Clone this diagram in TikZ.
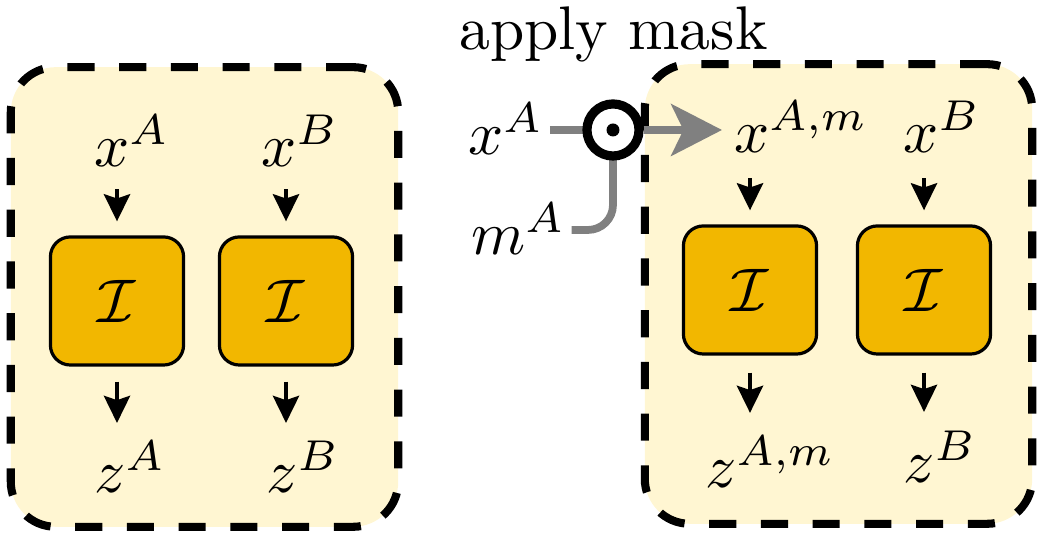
\documentclass[tikz,border=0pt]{standalone}
\usepackage{tikz}
\usetikzlibrary{positioning}
\usetikzlibrary{arrows.meta}
\definecolor{panelfill}{RGB}{255,246,210}
\definecolor{cellfill}{RGB}{242,183,0}
\definecolor{maskgray}{RGB}{128,128,128}
\tikzset{
    panel/.style = {rectangle, rounded corners=0.257cm, draw=black, line width=1.31pt, dash pattern=on 4.4pt off 4pt, fill=panelfill, minimum width=2.211cm, minimum height=2.623cm},
    cellI/.style = {rectangle, rounded corners=0.114cm, draw=black, line width=0.52pt, fill=cellfill, minimum width=0.76cm, minimum height=0.731cm},
    lbl/.style = {inner sep=0pt, anchor=base west},
    maskop/.style = {circle, draw=black, line width=1.49pt, fill=white, inner sep=0pt, minimum size=0.297cm},
    edgen/.style = {-{Stealth[length=0.155cm,width=0.15cm,inset=0.025cm]},line width=0.52pt,black},
    edgeg/.style = {maskgray,line width=1.26pt},
    edgega/.style = {-{Stealth[length=0.29cm,width=0.295cm,inset=0.07cm]},maskgray,line width=1.26pt}
}
\begin{document}
\begin{tikzpicture}[x=0.005714cm,y=-0.005714cm,font=\fontsize{10}{12}\selectfont]
  \useasboundingbox (0,0) rectangle (1044,547);

  % panels
  \node[panel] (pl) at (204.5,297) {};
  \node[panel] (pr) at (838.5,294) {};

  % left panel
  \node[cellI] (IA1) at (117,301) {$\mathcal{I}$};
  \node[cellI] (IB1) at (286,301) {$\mathcal{I}$};
  \node[lbl] (xA1) at (93,167) {$x^A$};
  \node[lbl] (xB1) at (260,167) {$x^B$};
  \node[lbl] (zA1) at (93,493) {$z^A$};
  \node[lbl] (zB1) at (265,493) {$z^B$};
  \draw[edgen,shorten <=0.12cm,shorten >=0.08cm] (xA1.south -| IA1.north) -- (IA1.north);
  \draw[edgen,shorten <=0.12cm,shorten >=0.08cm] (xB1.south -| IB1.north) -- (IB1.north);
  \draw[edgen,shorten <=0.086cm,shorten >=0.097cm] (IA1.south) -- (zA1.north -| IA1.south);
  \draw[edgen,shorten <=0.086cm,shorten >=0.097cm] (IB1.south) -- (zB1.north -| IB1.south);

  % right panel
  \node[cellI] (IA2) at (750,290) {$\mathcal{I}$};
  \node[cellI] (IB2) at (924,290) {$\mathcal{I}$};
  \node[lbl] (xA2) at (733,153) {$x^{A,m}$};
  \node[lbl] (xB2) at (902,153) {$x^B$};
  \node[lbl] (zA2) at (704,488) {$z^{A,m}$};
  \node[lbl] (zB2) at (902,483) {$z^B$};
  \draw[edgen,shorten <=0.137cm,shorten >=0.08cm] (xA2.south -| IA2.north) -- (IA2.north);
  \draw[edgen,shorten <=0.137cm,shorten >=0.08cm] (xB2.south -| IB2.north) -- (IB2.north);
  \draw[edgen,shorten <=0.097cm,shorten >=0.126cm] (IA2.south) -- (zA2.north -| IA2.south);
  \draw[edgen,shorten <=0.097cm,shorten >=0.103cm] (IB2.south) -- (zB2.north -| IB2.south);

  % masking
  \node[lbl] (apply) at (458,50) {apply mask};
  \node[lbl] (xA0) at (467,155) {$x^A$};
  \node[lbl] (mA0) at (470,255) {$m^A$};
  \coordinate (tipA) at (722,130);
  \draw[edgeg] ([xshift=0.029cm]xA0.east |- 0,130) -- (613,130);
  \draw[edgeg,rounded corners=0.143cm] ([xshift=0.029cm]mA0.east |- 0,230) -| (613,130);
  \node[maskop] (mask) at (613,130) {};
  \fill (mask.center) circle[radius=0.037cm];
  \draw[edgega] (mask.east) -- (tipA);
\end{tikzpicture}
\end{document}
